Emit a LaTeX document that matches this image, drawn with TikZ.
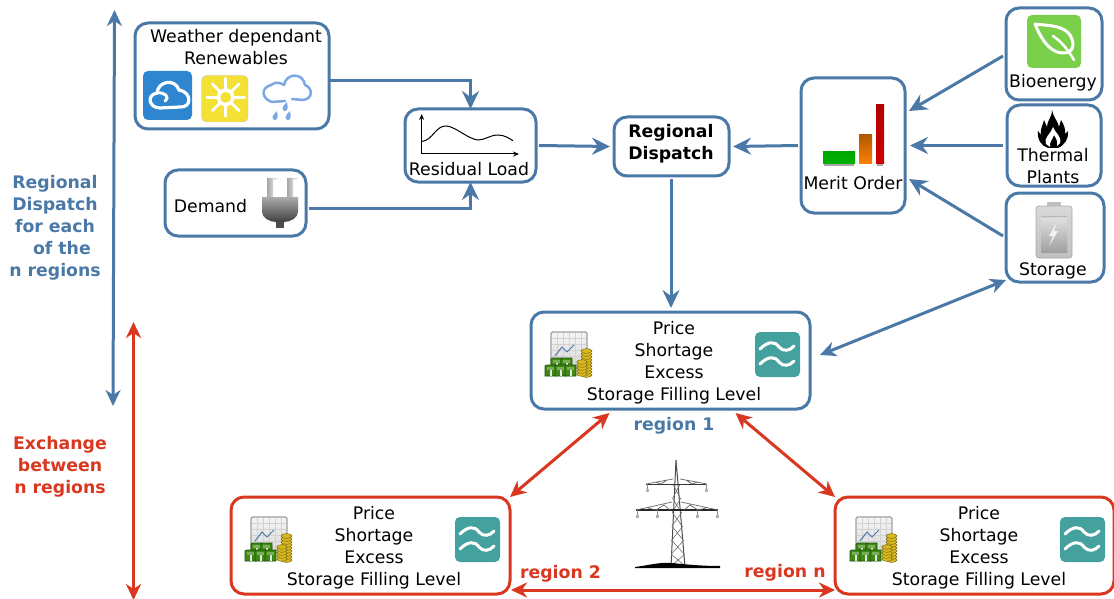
\documentclass[tikz,border=0pt]{standalone}
\usepackage{fontspec}
\setmainfont{DejaVu Sans}
\usetikzlibrary{arrows.meta,calc}
\definecolor{bl}{HTML}{4A79A8}
\definecolor{rd}{HTML}{D9371F}
\definecolor{tealc}{HTML}{45A19D}
\definecolor{cloudblue}{HTML}{2E86D0}
\definecolor{sunyellow}{HTML}{F4E136}
\definecolor{rainblue}{HTML}{7AA8E4}
\definecolor{leafgreen}{HTML}{7AD04A}
\definecolor{coin}{HTML}{D8B820}
\definecolor{coindark}{HTML}{7A6A10}
\definecolor{notegreen}{HTML}{3F8A12}
\definecolor{notedark}{HTML}{1E5208}
\tikzset{
 x=1pt,y=-1pt,
 box/.style={draw=bl,line width=3pt,rounded corners=13pt,outer sep=0pt,inner sep=0pt,fill=white},
 redbox/.style={box,draw=rd},
 lab/.style={font=\fontsize{17.3}{22}\selectfont,align=center,inner sep=0pt,text=black,yshift=-2pt},
 blab/.style={font=\fontsize{17.3}{22}\bfseries\selectfont,align=center,inner sep=0pt,yshift=-2pt},
 tip/.style={-{Stealth[length=18pt,width=17pt,inset=6pt]}},
 conn/.style={draw=bl,line width=3pt,tip},
 bilink/.style={line width=3pt,{Stealth[length=16pt,width=15pt,inset=5pt]}-{Stealth[length=16pt,width=15pt,inset=5pt]}},
 pics/moneyicon/.style={code={
  \draw[rounded corners=1.5pt,draw=gray!75,line width=1.2pt,top color=gray!8,bottom color=gray!30] (0,0) rectangle (36,36);
  \foreach \k in {6,12,18,24,30}{\draw[gray!35,line width=.5pt] (\k,1)--(\k,35) (1,\k)--(35,\k);}
  \draw[bl,line width=1pt] (4,24)--(11,15)--(16,20)--(23,13);
  \foreach \a/\b in {0/26,10/26,-6/33,4/33,14/33}{
   \fill[notegreen,draw=notedark,line width=.8pt] (\a,\b+1) -- (\a+2,\b) -- (\a+11,\b) -- (\a+11,\b+11) -- (\a,\b+11) -- cycle;
   \fill[notegreen!70!white] (\a+2,\b+2) rectangle (\a+9,\b+5);
   \fill[gray!20] (\a+4.5,\b+5) rectangle (\a+6.5,\b+11);
  }
  \foreach \c in {43,40,37,34,31,28,25,22,19}{
   \filldraw[fill=coin,draw=coindark,line width=.5pt] (35.5,\c) ellipse (5.5 and 2.4);
  }
  \foreach \c in {42,39,36,33,30}{
   \filldraw[fill=coin,draw=coindark,line width=.5pt] (31,\c) ellipse (5.3 and 2.3);
  }
 }},
 pics/waveicon/.style={code={
  \fill[tealc,rounded corners=5pt] (0,0) rectangle (45,45);
  \draw[white,line width=3pt,line cap=round] (5,17) .. controls (13,9) and (20,9) .. (24,15) .. controls (28,20) and (35,19) .. (39,14);
  \draw[white,line width=3pt,line cap=round] (5,32) .. controls (13,24) and (20,24) .. (24,30) .. controls (28,35) and (35,34) .. (39,29);
 }}
}
\begin{document}
\begin{tikzpicture}
\useasboundingbox (0,0) rectangle (1114,599);
% boxes
\node[box,minimum width=194pt,minimum height=106pt] (wr) at (232,76) {};
\node[box,minimum width=141pt,minimum height=66pt] (dem) at (235.5,203) {};
\node[box,minimum width=131pt,minimum height=73pt] (res) at (470.5,145.5) {};
\node[box,minimum width=115pt,minimum height=59pt] (disp) at (671.5,146.5) {};
\node[box,minimum width=104pt,minimum height=135pt] (mer) at (853,145.5) {};
\node[box,minimum width=96pt,minimum height=92pt] (bio) at (1054,54) {};
\node[box,minimum width=94pt,minimum height=81pt] (the) at (1054,145.5) {};
\node[box,minimum width=98pt,minimum height=89pt] (sto) at (1055,237.5) {};
\node[box,minimum width=279pt,minimum height=97pt] (r1) at (670.5,360.5) {};
\node[redbox,minimum width=279pt,minimum height=97pt] (r2) at (370.5,545.5) {};
\node[redbox,minimum width=279pt,minimum height=97pt] (rn) at (974.5,545.5) {};
% box texts
\node[lab] (wrt) at (236,45) {Weather dependant\\Renewables};
\node[lab] (demt) at (210.5,204) {Demand};
\node[lab] (rest) at (469,167) {Residual Load};
\node[blab] (dispt) at (671,142) {Regional\\Dispatch};
\node[lab] (mert) at (853,181) {Merit Order};
\node[lab] (biot) at (1053,81) {Bioenergy};
\node[lab] (thet) at (1053,164) {Thermal\\Plants};
\node[lab] (stot) at (1053,269) {Storage};
\node[lab] (r1t) at (674,361) {Price\\Shortage\\Excess\\Storage Filling Level};
\node[lab] (r2t) at (374,546) {Price\\Shortage\\Excess\\Storage Filling Level};
\node[lab] (rnt) at (979,546) {Price\\Shortage\\Excess\\Storage Filling Level};
% side and region labels
\node[blab,text=bl] (t1) at (55,226) {Regional\\Dispatch\\for each\\\hspace*{0.8em}of the\\n regions};
\node[blab,text=rd] (t2) at (60,465) {Exchange\\between\\n regions};
\node[blab,text=bl] (l1) at (674,424) {region 1};
\node[blab,text=rd] (l2) at (560.5,572) {region 2};
\node[blab,text=rd] (ln) at (785,571) {region n};
% connectors
\draw[conn] ([yshift=-5pt]wr.east) -| (res.north);
\draw[conn] ([xshift=3pt,yshift=-5pt]dem.east) -| (res.south);
\draw[conn] ([xshift=3pt]res.east) -- ([xshift=-4pt]disp.west);
\draw[conn] ([xshift=-3pt]mer.west) -- ([xshift=4pt]disp.east);
\draw[conn] ([yshift=-3pt,xshift=-.5pt]disp.south) -- ([yshift=4pt,xshift=.5pt]r1.north);
\draw[conn] ([xshift=-3pt,yshift=-2pt]bio.west) -- ([xshift=4pt,yshift=34.5pt]mer.east);
\draw[conn] ([xshift=-4pt]the.west) -- ([xshift=5pt]mer.east);
\draw[conn] ([xshift=-3pt,yshift=1.5pt]sto.west) -- ([xshift=4pt,yshift=-33.5pt]mer.east);
\draw[bilink,draw=bl] ([xshift=10pt,yshift=5.5pt]r1.east) -- ([yshift=2pt]sto.south west);
\draw[bilink,draw=rd] ([xshift=-61pt,yshift=-4pt]r1.south) -- (r2.north east);
\draw[bilink,draw=rd] ([xshift=65pt,yshift=-4pt]r1.south) -- (rn.north west);
\draw[bilink,draw=rd] ([xshift=1pt,yshift=4pt]r2.south east) -- ([yshift=4pt]rn.south west);
\coordinate (bt) at (114.5,10);
\coordinate (bb) at (113,406);
\coordinate (rt) at (133.5,322);
\coordinate (rb) at (133.5,600);
\draw[bilink,draw=bl] (bt) -- (bb);
\draw[bilink,draw=rd] (rt) -- (rb);
% weather icons
\fill[cloudblue,rounded corners=5pt] (143,71) rectangle (192,120);
\draw[white,line width=3.2pt,line join=round] (160,108) .. controls (149,108) and (146,95) .. (157,93) .. controls (158,81) and (175,78) .. (179,90) .. controls (192,92) and (192,108) .. (180,107) -- cycle;
\draw[white,line width=3pt,line cap=round] (157,93) .. controls (165,92) and (170,97) .. (165,101);
\filldraw[fill=sunyellow,rounded corners=5pt,draw=gray!50,line width=.4pt] (201.5,75.5) rectangle (248,122);
\fill[white] (225.7,97.3) circle (9);
\fill[sunyellow] (225.7,97.3) circle (5.5);
\foreach \a in {0,45,...,315}{\draw[white,line width=2.7pt,line cap=round] ($(225.7,97.3)+(\a:8)$)--($(225.7,97.3)+(\a:19)$);}
\draw[rainblue,line width=2.5pt,line join=round,line cap=round] (272,102) .. controls (262,99) and (260,88) .. (271,85) .. controls (276,81) and (281,83) .. (284,85) .. controls (286,73) and (303,72) .. (305,85) .. controls (313,88) and (313,99) .. (303,100) -- (292,99) (285,101)--(272,102);
\foreach \x/\y in {275/117,285/108,288/117}{\fill[rainblue] (\x+2,\y-6) .. controls (\x+3,\y-1) and (\x+3,\y+3) .. (\x,\y+3) .. controls (\x-4,\y+3) and (\x-3,\y-2) .. cycle;}
% plug
\shade[left color=gray!70,right color=white] (267,178) -- (267,198) -- (273,198) -- (273,178) arc (0:-180:-3 and -2) -- cycle;
\shade[left color=gray!70,right color=white] (287,178) -- (287,198) -- (293,198) -- (293,178) arc (0:-180:-3 and -2) -- cycle;
\fill[black!70] (276,219) rectangle (284,228);
\shade[top color=gray!65,bottom color=black!75] (262,197) -- (298,197) -- (298,212) .. controls (298,218) and (290,222) .. (284,222) -- (276,222) .. controls (270,222) and (262,218) .. (262,212) -- cycle;
% residual curve
\draw[line width=1pt,-{Stealth[length=6pt,width=5pt]}] (421.7,154) -- (421.7,114);
\draw[line width=1pt,-{Stealth[length=6pt,width=5pt]}] (421.7,154) -- (519,154);
\draw[line width=1pt] (422,141.5) .. controls (433,140) and (436,125) .. (446.7,126) .. controls (456,127) and (468,139) .. (478,140) .. controls (485,140) and (490,135) .. (498,135) .. controls (505,135) and (510,139) .. (513,140.7);
% merit bars
\fill[black!35] (824,164) rectangle (854,166);
\fill[black!35] (877,164) rectangle (883,166);
\shade[top color=green!65!black,bottom color=green!70!black] (823,152) rectangle (855,164);
\shade[top color=orange!70!black,bottom color=orange] (859,135) rectangle (872,164);
\shade[top color=red!70!black,bottom color=red!80!black] (876,105) rectangle (884,164);
% leaf
\fill[leafgreen,rounded corners=5pt] (1027,15) rectangle (1081,68);
\draw[white,line width=3pt,line join=round,line cap=round] (1035,24) .. controls (1048,26) and (1072,24) .. (1073,45) .. controls (1072,52) and (1068,53) .. (1062,53) .. controls (1048,52) and (1040,36) .. cycle;
\draw[white,line width=2.5pt,line cap=round] (1053,36) .. controls (1062,42) and (1068,50) .. (1074,60);
% flame
\fill[black] (1052,110) .. controls (1053,117) and (1058,121) .. (1059,127) -- (1061,120) .. controls (1064,125) and (1066,130) .. (1065,134) -- (1068,131) .. controls (1069,138) and (1065,145) .. (1058,148) -- (1048,148) .. controls (1041,146) and (1037,139) .. (1038,131) -- (1041,135) .. controls (1040,128) and (1043,125) .. (1044,120) -- (1047,127) .. controls (1047,120) and (1052,118) .. cycle;
\fill[white] (1053,127) .. controls (1055,133) and (1062,136) .. (1060,143) -- (1057,146) .. controls (1058,141) and (1056,138) .. (1054,135) .. controls (1053,139) and (1049,142) .. (1050,147) -- (1046,144) .. controls (1043,138) and (1051,134) .. cycle;
% battery
\shade[top color=gray!30,bottom color=gray!50,rounded corners=3pt,draw=gray!65,line width=.8pt] (1036,206) rectangle (1072,258);
\fill[gray!50] (1047,202) rectangle (1061,206);
\draw[gray!55,line width=1pt] (1041,216) -- (1067,216);
\shade[top color=gray!25,bottom color=gray!75] (1041,218) rectangle (1067,252);
\fill[white!90!gray] (1057,222) -- (1049,236) -- (1053,236) -- (1049,246) -- (1058,231) -- (1054,231) -- cycle;
% tower
\draw[black!70,line width=1pt] (676,460) -- (671,567) (676,460) -- (685,567);
\foreach \ya/\yb/\xa/\xb in {484/498/672.8/680.2,498/512/672.4/681,512/526/672/682,526/540/671.8/683,540/554/671.4/684,554/566/671/685}{
 \draw[black!55,line width=.6pt] (\xa,\ya)--(\xb,\yb) (\xb,\ya)--(\xa,\yb);
}
\draw[black!80,line width=1pt] (646,484) -- (707,484);
\draw[black!60,line width=.7pt] (646,484) -- (673,479) (707,484) -- (680,479) (655,482)--(661,484)--(667,480) (698,482)--(692,484)--(686,480);
\draw[black!85,line width=1.2pt] (636,510) -- (718,510);
\draw[black!60,line width=.7pt] (636,510) -- (672,502) (718,510) -- (681,502) (648,508)--(656,510)--(664,505)--(670,510) (706,508)--(698,510)--(690,505)--(684,510);
\foreach \x/\y in {647/484,706/484,637/510,657/510,697/510,717/510}{\draw[black!45,line width=.8pt] (\x,\y)--(\x,\y+7);\fill[black!30] (\x-1.5,\y+5) rectangle (\x+1.5,\y+8);}
\fill[black] (635,567) .. controls (650,565) and (660,562) .. (672,563) .. controls (682,564) and (700,566) .. (720,566) -- (720,568) -- (635,568) -- cycle;
% region icons
\pic (m1) at (551,332) {moneyicon};
\pic (w1) at (755,332) {waveicon};
\pic (m2) at (251,517) {moneyicon};
\pic (w2) at (455,517) {waveicon};
\pic (m3) at (856,517) {moneyicon};
\pic (w3) at (1060,517) {waveicon};
\end{tikzpicture}
\end{document}
